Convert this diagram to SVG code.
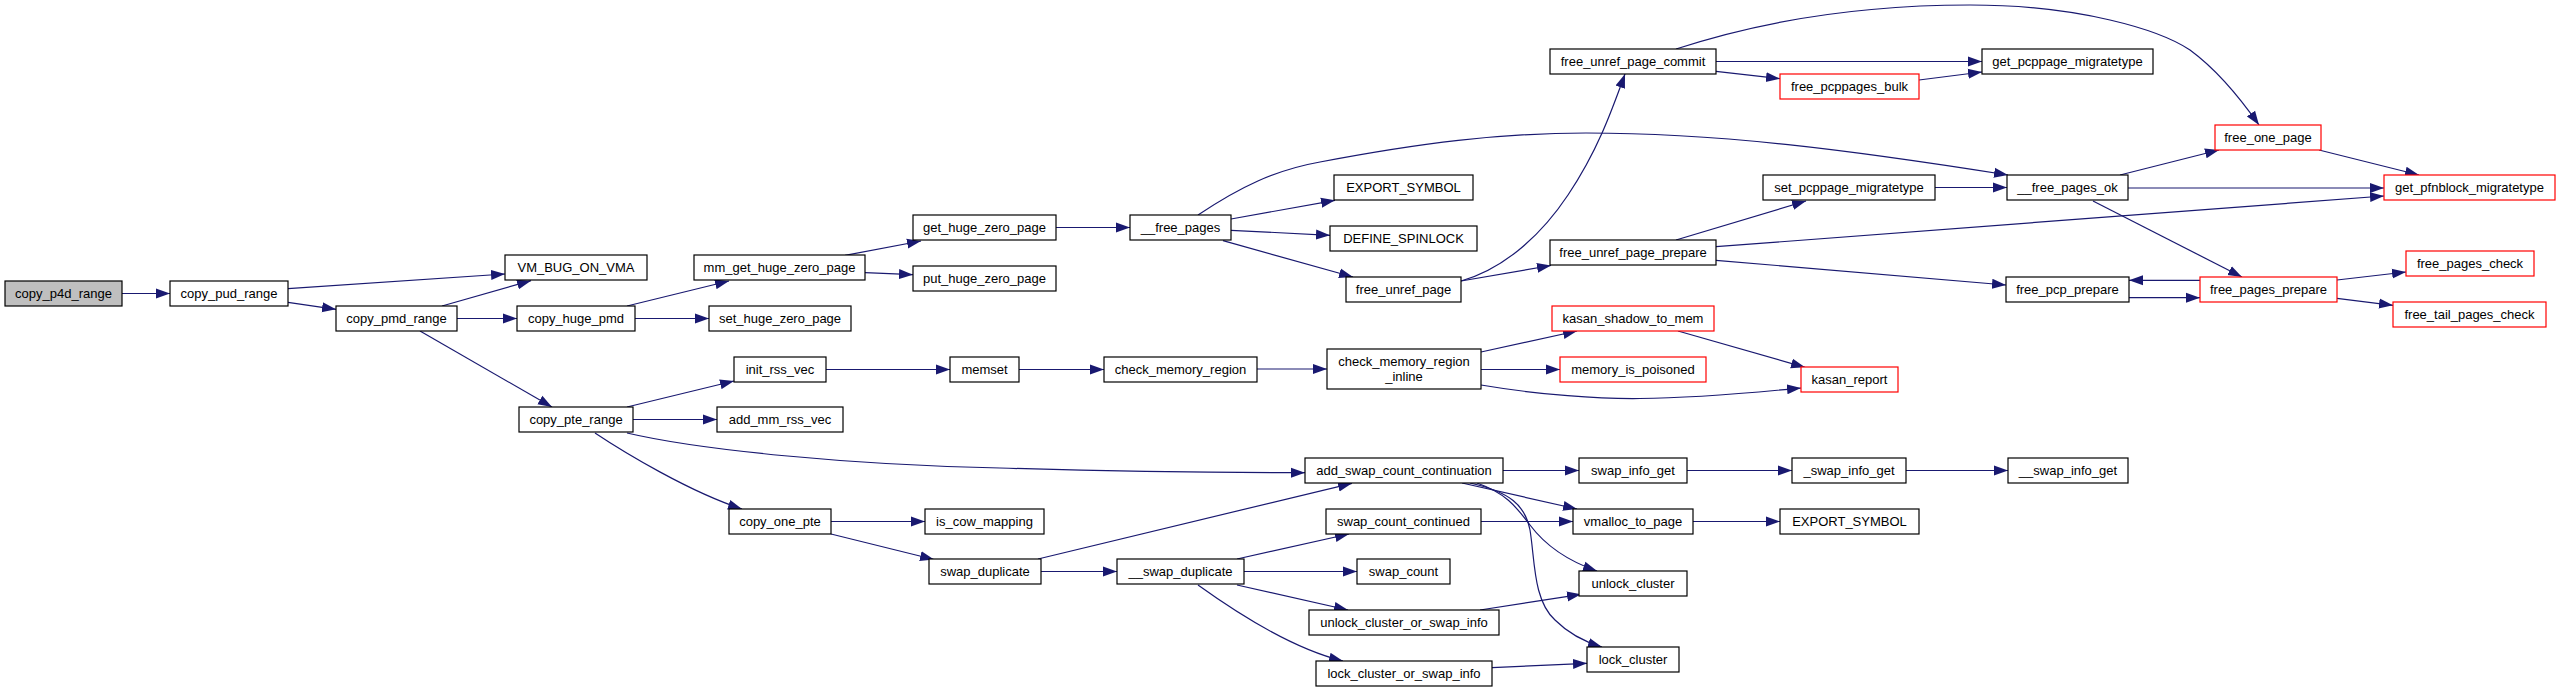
<svg xmlns="http://www.w3.org/2000/svg" width="2561" height="692" viewBox="0 0 2561 692">
<style>
.n rect{fill:#fff;stroke:#000;stroke-width:1.2}
.n.r rect{stroke:#ff0000}
.n.g rect{fill:#bfbfbf}
.n text{font-family:"Liberation Sans",Arial,Helvetica,sans-serif;font-size:13px;fill:#000;text-anchor:middle}
.e path{fill:none;stroke:#191970;stroke-width:1.2;marker-end:url(#a)}
</style>
<defs>
<marker id="a" markerUnits="userSpaceOnUse" markerWidth="14" markerHeight="11" refX="14" refY="5.5" orient="auto">
<path d="M0,0.5 L14,5.5 L0,10.5 Z" fill="#191970"/>
</marker>
</defs>
<rect width="2561" height="692" fill="#fff"/>
<g id="edges" class="e">
<path d="M122,293.5 L170,293.5"/>
<path d="M288,288.7 L505,274"/>
<path d="M288,302.3 L336,309.3"/>
<path d="M442,306 L531,280.7"/>
<path d="M457,318.5 L517,318.5"/>
<path d="M420,331 L552,407"/>
<path d="M627,306 L729,281"/>
<path d="M635,318.5 L709,318.5"/>
<path d="M845,255.3 L921,241"/>
<path d="M865,272.7 L913,274.7"/>
<path d="M1056,227.5 L1130,227.5"/>
<path d="M1231,219 L1335,200.3"/>
<path d="M1231,230.3 L1330,235.3"/>
<path d="M1223,240.7 L1353,277"/>
<path d="M1198,215 C1240,187 1275,170 1320,162 C1420,143 1500,133 1586,133 C1720,133 1850,150 2008,175"/>
<path d="M1461,281 C1500,270 1538,240 1568,195 C1598,150 1612,110 1625,74"/>
<path d="M1461,281 L1551,265.5"/>
<path d="M1676,49 C1780,15 1880,5 1970,5 C2080,5 2160,30 2190,50 C2220,72 2245,105 2259,125"/>
<path d="M1716,61.5 L1982,61.5"/>
<path d="M1716,71.3 L1780,78.7"/>
<path d="M1919,80 L1982,72"/>
<path d="M1676,240 L1806,201"/>
<path d="M1716,246.7 L2384,196"/>
<path d="M1716,260.3 L2006,285"/>
<path d="M1935,187.5 L2007,187.5"/>
<path d="M2120,175 L2219,150"/>
<path d="M2128,188 L2384,188"/>
<path d="M2093,201 L2242,277"/>
<path d="M2319,150 L2419,175"/>
<path d="M2129,297.7 L2200,297.7"/>
<path d="M2200,280.3 L2129,280.3"/>
<path d="M2337,280 L2406,272"/>
<path d="M2337,298.3 L2393,305.3"/>
<path d="M627,407 L734,381"/>
<path d="M633,419.5 L717,419.5"/>
<path d="M627,433 C700,450 850,465 1000,468 C1100,471 1200,472.7 1305,472.7"/>
<path d="M595,433 C625,453 690,492 742,509"/>
<path d="M831,521.5 L925,521.5"/>
<path d="M831,534 L934,559.5"/>
<path d="M1038,559 L1352,483.3"/>
<path d="M1041,571.5 L1117,571.5"/>
<path d="M1237,559 L1349,534"/>
<path d="M1244,571.5 L1357,571.5"/>
<path d="M1237,585 L1348,610"/>
<path d="M1198,585 C1230,608 1290,648 1343,661"/>
<path d="M826,369.5 L950,369.5"/>
<path d="M1019,369.5 L1104,369.5"/>
<path d="M1257,369 L1327,369"/>
<path d="M1481,352 L1577,331"/>
<path d="M1481,369.5 L1560,369.5"/>
<path d="M1481,385 C1540,395 1600,399 1640,398.5 C1700,398 1760,392 1801,388"/>
<path d="M1678,331 L1805,367.3"/>
<path d="M1503,470.5 L1579,470.5"/>
<path d="M1687,470.5 L1792,470.5"/>
<path d="M1906,470.5 L2008,470.5"/>
<path d="M1462,483 L1577,509"/>
<path d="M1477,483 C1505,493 1515,505 1530,525 C1545,545 1565,560 1597,571"/>
<path d="M1470,483 C1510,492 1525,505 1530,530 C1535,560 1533,600 1555,620 C1570,635 1585,642 1602,647"/>
<path d="M1481,521.5 L1573,521.5"/>
<path d="M1693,521.5 L1780,521.5"/>
<path d="M1480,610 L1581,594.3"/>
<path d="M1492,667.7 L1587,663.3"/>
</g>
<g id="n1" class="n g"><rect x="5" y="281" width="117" height="25"/><text x="63.5" y="298">copy_p4d_range</text></g>
<g id="n2" class="n"><rect x="170" y="281" width="118" height="25"/><text x="229" y="298">copy_pud_range</text></g>
<g id="n3" class="n"><rect x="505" y="255" width="142" height="25"/><text x="576" y="272">VM_BUG_ON_VMA</text></g>
<g id="n4" class="n"><rect x="336" y="306" width="121" height="25"/><text x="396.5" y="323">copy_pmd_range</text></g>
<g id="n5" class="n"><rect x="517" y="306" width="118" height="25"/><text x="576" y="323">copy_huge_pmd</text></g>
<g id="n6" class="n"><rect x="519" y="407" width="114" height="25"/><text x="576" y="424">copy_pte_range</text></g>
<g id="n7" class="n"><rect x="694" y="255" width="171" height="25"/><text x="779.5" y="272">mm_get_huge_zero_page</text></g>
<g id="n8" class="n"><rect x="709" y="306" width="142" height="25"/><text x="780" y="323">set_huge_zero_page</text></g>
<g id="n9" class="n"><rect x="913" y="215" width="143" height="25"/><text x="984.5" y="232">get_huge_zero_page</text></g>
<g id="n10" class="n"><rect x="913" y="266" width="143" height="25"/><text x="984.5" y="283">put_huge_zero_page</text></g>
<g id="n11" class="n"><rect x="1130" y="215" width="101" height="25"/><text x="1180.5" y="232">__free_pages</text></g>
<g id="n12" class="n"><rect x="1334" y="175" width="139" height="25"/><text x="1403.5" y="192">EXPORT_SYMBOL</text></g>
<g id="n13" class="n"><rect x="1330" y="226" width="147" height="25"/><text x="1403.5" y="243">DEFINE_SPINLOCK</text></g>
<g id="n14" class="n"><rect x="1346" y="277" width="115" height="25"/><text x="1403.5" y="294">free_unref_page</text></g>
<g id="n15" class="n"><rect x="1550" y="49" width="166" height="25"/><text x="1633" y="66">free_unref_page_commit</text></g>
<g id="n16" class="n r"><rect x="1780" y="74" width="139" height="25"/><text x="1849.5" y="91">free_pcppages_bulk</text></g>
<g id="n17" class="n"><rect x="1763" y="175" width="172" height="25"/><text x="1849" y="192">set_pcppage_migratetype</text></g>
<g id="n18" class="n"><rect x="1550" y="240" width="166" height="25"/><text x="1633" y="257">free_unref_page_prepare</text></g>
<g id="n19" class="n r"><rect x="1552" y="306" width="162" height="25"/><text x="1633" y="323">kasan_shadow_to_mem</text></g>
<g id="n20" class="n"><rect x="1982" y="49" width="171" height="25"/><text x="2067.5" y="66">get_pcppage_migratetype</text></g>
<g id="n21" class="n r"><rect x="2215" y="125" width="106" height="25"/><text x="2268" y="142">free_one_page</text></g>
<g id="n22" class="n"><rect x="2007" y="175" width="121" height="25"/><text x="2067.5" y="192">__free_pages_ok</text></g>
<g id="n23" class="n r"><rect x="2384" y="175" width="171" height="25"/><text x="2469.5" y="192">get_pfnblock_migratetype</text></g>
<g id="n24" class="n r"><rect x="2406" y="251" width="128" height="25"/><text x="2470" y="268">free_pages_check</text></g>
<g id="n25" class="n"><rect x="2006" y="277" width="123" height="25"/><text x="2067.5" y="294">free_pcp_prepare</text></g>
<g id="n26" class="n r"><rect x="2200" y="277" width="137" height="25"/><text x="2268.5" y="294">free_pages_prepare</text></g>
<g id="n27" class="n r"><rect x="2393" y="302" width="153" height="25"/><text x="2469.5" y="319">free_tail_pages_check</text></g>
<g id="n28" class="n"><rect x="734" y="357" width="92" height="25"/><text x="780" y="374">init_rss_vec</text></g>
<g id="n29" class="n"><rect x="717" y="407" width="126" height="25"/><text x="780" y="424">add_mm_rss_vec</text></g>
<g id="n30" class="n"><rect x="950" y="357" width="69" height="25"/><text x="984.5" y="374">memset</text></g>
<g id="n31" class="n"><rect x="1104" y="357" width="153" height="25"/><text x="1180.5" y="374">check_memory_region</text></g>
<g id="n32" class="n"><rect x="729" y="509" width="102" height="25"/><text x="780" y="526">copy_one_pte</text></g>
<g id="n33" class="n"><rect x="925" y="509" width="119" height="25"/><text x="984.5" y="526">is_cow_mapping</text></g>
<g id="n34" class="n"><rect x="929" y="559" width="112" height="25"/><text x="985" y="576">swap_duplicate</text></g>
<g id="n35" class="n"><rect x="1117" y="559" width="127" height="25"/><text x="1180.5" y="576">__swap_duplicate</text></g>
<g id="n36" class="n"><rect x="1305" y="458" width="198" height="25"/><text x="1404" y="475">add_swap_count_continuation</text></g>
<g id="n37" class="n"><rect x="1326" y="509" width="155" height="25"/><text x="1403.5" y="526">swap_count_continued</text></g>
<g id="n38" class="n"><rect x="1357" y="559" width="93" height="25"/><text x="1403.5" y="576">swap_count</text></g>
<g id="n39" class="n"><rect x="1309" y="610" width="190" height="25"/><text x="1404" y="627">unlock_cluster_or_swap_info</text></g>
<g id="n40" class="n"><rect x="1316" y="661" width="176" height="25"/><text x="1404" y="678">lock_cluster_or_swap_info</text></g>
<g id="n41" class="n"><rect x="1327" y="349" width="154" height="40"/><text x="1404" y="365.5">check_memory_region</text><text x="1404" y="380.5">_inline</text></g>
<g id="n42" class="n r"><rect x="1560" y="357" width="146" height="25"/><text x="1633" y="374">memory_is_poisoned</text></g>
<g id="n43" class="n r"><rect x="1801" y="367" width="97" height="25"/><text x="1849.5" y="384">kasan_report</text></g>
<g id="n44" class="n"><rect x="1579" y="458" width="108" height="25"/><text x="1633" y="475">swap_info_get</text></g>
<g id="n45" class="n"><rect x="1792" y="458" width="114" height="25"/><text x="1849" y="475">_swap_info_get</text></g>
<g id="n46" class="n"><rect x="2008" y="458" width="120" height="25"/><text x="2068" y="475">__swap_info_get</text></g>
<g id="n47" class="n"><rect x="1573" y="509" width="120" height="25"/><text x="1633" y="526">vmalloc_to_page</text></g>
<g id="n48" class="n"><rect x="1780" y="509" width="139" height="25"/><text x="1849.5" y="526">EXPORT_SYMBOL</text></g>
<g id="n49" class="n"><rect x="1579" y="571" width="108" height="25"/><text x="1633" y="588">unlock_cluster</text></g>
<g id="n50" class="n"><rect x="1587" y="647" width="92" height="25"/><text x="1633" y="664">lock_cluster</text></g>
</svg>
